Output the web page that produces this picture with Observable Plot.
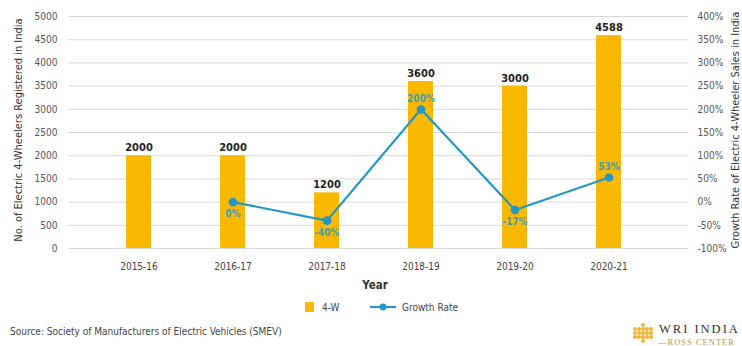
<!DOCTYPE html>
<html><head><meta charset="utf-8">
<script src="https://cdn.jsdelivr.net/npm/d3@7"></script>
<script src="https://cdn.jsdelivr.net/npm/@observablehq/plot@0.6"></script>
<style>
body{margin:0;background:#fff;font-family:"DejaVu Sans",sans-serif;font-stretch:condensed;}
#wrap{position:relative;width:742px;height:346px;overflow:hidden;}
#chart{position:absolute;left:0;top:0;}
#chart svg text{font-stretch:condensed;}
.abs{position:absolute;white-space:nowrap;font-stretch:condensed;}
</style></head>
<body><div id="wrap"><div id="chart"></div></div>
<script>
const years = ["2015-16","2016-17","2017-18","2018-19","2019-20","2020-21"];
const units = [2000, 2000, 1200, 3600, 3500, 4588];           // bar heights as drawn
const unitLabels = ["2000","2000","1200","3600","3000","4588"]; // labels as printed
const growthYears = ["2016-17","2017-18","2018-19","2019-20","2020-21"];
const growth = [0, -40, 200, -17, 53];
const leftTicks = [0,500,1000,1500,2000,2500,3000,3500,4000,4500,5000];
const rightTicks = [-100,-50,0,50,100,150,200,250,300,350,400];

const toLeft = g => (g + 100) * 10;
const bars = years.map((y,i)=>({year:y, v:units[i], label:unitLabels[i]}));
const gr = growthYears.map((y,i)=>({year:y, g:growth[i], v:toLeft(growth[i]), up: i>0 && growth[i] > growth[i-1]}));

const BAR = "#FBB800", LINE = "#2397C4", FONT = `"DejaVu Sans",sans-serif`;

const plot = Plot.plot({
  width: 742, height: 296,
  marginTop: 16, marginBottom: 48, marginLeft: 68, marginRight: 54,
  style: {fontFamily: FONT, fontSize: "10px", color: "#444", background: "#fff"},
  x: {domain: years, range: [68, 679], paddingInner: 0.735, paddingOuter: 0.61, label: null},
  y: {domain: [0, 5000], label: null},
  marks: [
    Plot.gridY(leftTicks, {stroke: "#d9d9d9", strokeOpacity: 1}),
    Plot.axisY(leftTicks, {anchor: "left", tickSize: 0, tickPadding: 11, label: null, fill: "#555", tickFormat: d => String(d)}),
    Plot.axisY(rightTicks.map(toLeft), {anchor: "right", tickSize: 0, tickPadding: 9, label: null, fill: "#555", tickFormat: d => `${Math.round(d/10 - 100)}%`}),
    Plot.axisX({tickSize: 0, tickPadding: 14, label: null, fill: "#444"}),
    Plot.barY(bars, {x: "year", y: "v", fill: BAR}),
    Plot.text(bars, {x: "year", y: "v", text: "label", dy: -8, fill: "#222", fontSize: 11, fontWeight: 600}),
    Plot.line(gr, {x: "year", y: "v", stroke: LINE, strokeWidth: 2.2}),
    Plot.dot(gr, {x: "year", y: "v", r: 3.6, fill: LINE, stroke: LINE}),
    Plot.text(gr.filter(d=>d.up), {x: "year", y: "v", text: d => `${d.g}%`, dy: -11, fill: "#3a9fb5", fontSize: 10, fontWeight: 600}),
    Plot.text(gr.filter(d=>!d.up), {x: "year", y: "v", text: d => `${d.g}%`, dy: 12, fill: "#3a9fb5", fontSize: 10, fontWeight: 600})
  ]
});
document.getElementById("chart").appendChild(plot);

const wrap = document.getElementById("wrap");
function add(html, css){const d=document.createElement("div");d.className="abs";d.innerHTML=html;d.style.cssText+=css;wrap.appendChild(d);}
add("No. of Electric 4-Wheelers Registered in India", "left:18px;top:130px;transform:translate(-50%,-50%) rotate(-90deg);font-size:11px;color:#333;");
add("Growth Rate of Electric 4-Wheeler Sales in India", "left:735px;top:130px;transform:translate(-50%,-50%) rotate(-90deg);font-size:11px;color:#333;");
add("Year", "left:375px;top:285px;transform:translate(-50%,-50%);font-size:11.5px;font-weight:600;color:#333;");
add(`<span style="display:inline-block;width:9px;height:10px;background:${BAR};vertical-align:-1px;margin-right:8px"></span>4-W`, "left:305px;top:302px;font-size:10px;color:#444;");
add(`<svg width="26" height="8" style="vertical-align:0px;margin-right:6px"><line x1="0" y1="4" x2="26" y2="4" stroke="${LINE}" stroke-width="2.2"/><circle cx="13" cy="4" r="3.4" fill="${LINE}"/></svg>Growth Rate`, "left:370px;top:302px;font-size:10px;color:#444;");
add("Source: Society of Manufacturers of Electric Vehicles (SMEV)", "left:10px;top:326px;font-size:10px;color:#444;");
let dots = "";
[[10,2],[6,6],[14,6],[2,10],[10,10],[18,10],[6,14],[14,14],[10,18],[2,14],[18,14],[2,6],[18,6],[10,6],[10,14],[6,10],[14,10]].forEach(([x,y])=>dots+=`<circle cx="${x}" cy="${y+1}" r="2" fill="#F2B632"/>`);
add(`<svg width="21" height="22">${dots}</svg>`, "left:633px;top:322px;");
add("WRI INDIA", "left:659px;top:322px;font-family:'Liberation Serif','DejaVu Serif',serif;font-size:12.5px;letter-spacing:2px;color:#333;font-stretch:normal;");
add("—ROSS CENTER", "left:658px;top:337px;font-family:'Liberation Serif','DejaVu Serif',serif;font-size:8.5px;letter-spacing:1px;color:#B8963A;font-stretch:normal;");
</script></body></html>
